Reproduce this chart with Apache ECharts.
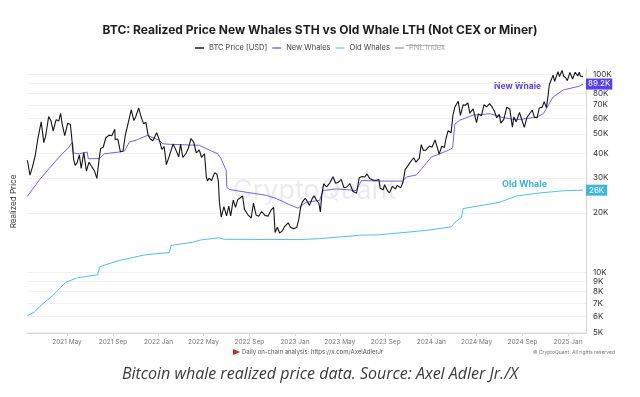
<!DOCTYPE html>
<html>
<head>
<meta charset="utf-8">
<script src="https://cdn.jsdelivr.net/npm/echarts@6/dist/echarts.min.js"></script>
<style>
  html, body { margin: 0; padding: 0; background: #fff; }
  #chart { width: 640px; height: 397px; }
</style>
</head>
<body>
<div id="chart"></div>
<script>
// BTC price (date, USD)
var btcPrice = [
  ['2021-01-15', 36800], ['2021-01-22', 31000], ['2021-01-29', 34300], ['2021-02-05', 38900],
  ['2021-02-12', 47200], ['2021-02-21', 57500], ['2021-02-28', 45200], ['2021-03-05', 48800],
  ['2021-03-13', 61200], ['2021-03-19', 58300], ['2021-03-25', 51700], ['2021-04-02', 59000],
  ['2021-04-09', 58100], ['2021-04-14', 63500], ['2021-04-18', 56200], ['2021-04-25', 49000],
  ['2021-05-03', 56600], ['2021-05-10', 55800], ['2021-05-13', 49500], ['2021-05-19', 37000],
  ['2021-05-23', 34700], ['2021-05-28', 35700], ['2021-06-03', 39200], ['2021-06-08', 33500],
  ['2021-06-15', 40200], ['2021-06-22', 32500], ['2021-06-29', 36000], ['2021-07-06', 34200],
  ['2021-07-13', 32700], ['2021-07-20', 29800], ['2021-07-26', 37300], ['2021-07-30', 42200],
  ['2021-08-06', 42800], ['2021-08-13', 47800], ['2021-08-22', 49300], ['2021-08-29', 48900],
  ['2021-09-06', 52700], ['2021-09-07', 46800], ['2021-09-14', 47100], ['2021-09-21', 40600],
  ['2021-09-28', 41000], ['2021-10-04', 49100], ['2021-10-10', 54800], ['2021-10-20', 66000],
  ['2021-10-27', 58400], ['2021-11-01', 61000], ['2021-11-09', 67500], ['2021-11-16', 60400],
  ['2021-11-22', 56300], ['2021-11-28', 57200], ['2021-12-04', 49400], ['2021-12-10', 47100],
  ['2021-12-17', 46200], ['2021-12-27', 50700], ['2022-01-02', 47300], ['2022-01-10', 41800],
  ['2022-01-16', 43100], ['2022-01-22', 35000], ['2022-01-28', 37700], ['2022-02-09', 44400],
  ['2022-02-14', 42500], ['2022-02-24', 38300], ['2022-03-01', 44400], ['2022-03-07', 38000],
  ['2022-03-15', 39700], ['2022-03-22', 42400], ['2022-03-29', 47400], ['2022-04-05', 45500],
  ['2022-04-12', 40100], ['2022-04-20', 41500], ['2022-04-26', 38100], ['2022-05-04', 39700],
  ['2022-05-09', 30300], ['2022-05-12', 28900], ['2022-05-16', 29900], ['2022-05-23', 29100],
  ['2022-05-31', 31800], ['2022-06-06', 31400], ['2022-06-10', 29000], ['2022-06-13', 22500],
  ['2022-06-18', 19000], ['2022-06-25', 21500], ['2022-07-02', 19300], ['2022-07-08', 21600],
  ['2022-07-13', 19300], ['2022-07-20', 23200], ['2022-07-26', 21300], ['2022-08-01', 23300],
  ['2022-08-08', 23800], ['2022-08-14', 24300], ['2022-08-19', 20800], ['2022-08-28', 19600],
  ['2022-09-06', 18800], ['2022-09-12', 22400], ['2022-09-19', 19500], ['2022-09-26', 19200],
  ['2022-10-04', 20300], ['2022-10-13', 19400], ['2022-10-21', 19200], ['2022-10-29', 20600],
  ['2022-11-05', 21300], ['2022-11-09', 15900], ['2022-11-15', 16900], ['2022-11-21', 15800],
  ['2022-11-28', 16200], ['2022-12-05', 17100], ['2022-12-14', 17800], ['2022-12-20', 16900],
  ['2022-12-29', 16600], ['2023-01-06', 16900], ['2023-01-12', 18800], ['2023-01-16', 21200],
  ['2023-01-21', 22700], ['2023-01-29', 23700], ['2023-02-02', 23700], ['2023-02-09', 21800],
  ['2023-02-16', 23500], ['2023-02-21', 24400], ['2023-02-28', 23100], ['2023-03-06', 22400],
  ['2023-03-10', 20200], ['2023-03-14', 24700], ['2023-03-19', 28000], ['2023-03-27', 27000],
  ['2023-04-04', 28200], ['2023-04-13', 30400], ['2023-04-20', 28200], ['2023-04-26', 28400],
  ['2023-05-05', 29500], ['2023-05-12', 26800], ['2023-05-19', 26900], ['2023-05-28', 28100],
  ['2023-06-05', 25700], ['2023-06-15', 25100], ['2023-06-22', 30000], ['2023-06-30', 30500],
  ['2023-07-07', 30300], ['2023-07-13', 31400], ['2023-07-20', 29800], ['2023-07-28', 29300],
  ['2023-08-04', 29100], ['2023-08-14', 29400], ['2023-08-17', 26600], ['2023-08-25', 26100],
  ['2023-08-29', 27700], ['2023-09-06', 25800], ['2023-09-11', 25200], ['2023-09-19', 27200],
  ['2023-09-27', 26400], ['2023-10-02', 27500], ['2023-10-11', 26700], ['2023-10-17', 28400],
  ['2023-10-23', 33000], ['2023-10-31', 34700], ['2023-11-09', 36700], ['2023-11-15', 37900],
  ['2023-11-21', 36000], ['2023-11-30', 37700], ['2023-12-05', 44100], ['2023-12-11', 41200],
  ['2023-12-17', 41400], ['2023-12-27', 43400], ['2024-01-03', 42800], ['2024-01-11', 46600],
  ['2024-01-17', 42700], ['2024-01-22', 39500], ['2024-01-29', 43300], ['2024-02-05', 42700],
  ['2024-02-09', 47100], ['2024-02-15', 51900], ['2024-02-23', 50700], ['2024-02-28', 62400],
  ['2024-03-04', 68300], ['2024-03-13', 73100], ['2024-03-19', 62000], ['2024-03-26', 70000],
  ['2024-04-01', 69700], ['2024-04-08', 71600], ['2024-04-13', 63600], ['2024-04-22', 66800],
  ['2024-05-01', 57000], ['2024-05-06', 63100], ['2024-05-14', 61600], ['2024-05-21', 70100],
  ['2024-05-28', 68400], ['2024-06-05', 71000], ['2024-06-12', 68200], ['2024-06-18', 65100],
  ['2024-06-24', 60300], ['2024-07-01', 62800], ['2024-07-05', 56700], ['2024-07-13', 59200],
  ['2024-07-21', 68200], ['2024-07-29', 66800], ['2024-08-05', 54000], ['2024-08-09', 60900],
  ['2024-08-15', 57500], ['2024-08-24', 64100], ['2024-08-30', 59100], ['2024-09-06', 53900],
  ['2024-09-13', 60500], ['2024-09-20', 63200], ['2024-09-27', 65800], ['2024-10-03', 60700],
  ['2024-10-10', 60300], ['2024-10-16', 67600], ['2024-10-24', 68200], ['2024-10-29', 72700],
  ['2024-11-04', 67800], ['2024-11-08', 76500], ['2024-11-12', 88700], ['2024-11-17', 90500],
  ['2024-11-22', 98900], ['2024-11-26', 91900], ['2024-12-05', 103000], ['2024-12-09', 97400],
  ['2024-12-16', 104500], ['2024-12-20', 97800], ['2024-12-26', 95800], ['2024-12-30', 92800],
  ['2025-01-06', 102100], ['2025-01-13', 94500], ['2025-01-20', 102300], ['2025-01-22', 104000],
  ['2025-01-27', 98000], ['2025-01-31', 102400], ['2025-02-03', 97800], ['2025-02-10', 97400]
];

// New whales (STH) realized price
var newWhales = [
  ['2021-01-15', 24200], ['2021-02-15', 29100], ['2021-03-14', 33400], ['2021-04-10', 38200],
  ['2021-05-07', 43000], ['2021-05-16', 45500], ['2021-05-18', 40000], ['2021-06-03', 39700],
  ['2021-06-24', 40500], ['2021-06-27', 37500], ['2021-07-27', 37500], ['2021-08-09', 39700],
  ['2021-09-18', 40500], ['2021-10-02', 41000], ['2021-10-15', 45500], ['2021-11-02', 46500],
  ['2021-12-03', 49200], ['2021-12-12', 48300], ['2022-01-03', 46500], ['2022-01-12', 44600],
  ['2022-01-30', 44300], ['2022-04-20', 43800], ['2022-05-22', 41000], ['2022-06-08', 39700],
  ['2022-06-17', 37600], ['2022-07-01', 32700], ['2022-07-03', 26800], ['2022-07-10', 26200],
  ['2022-08-23', 25400], ['2022-10-16', 24500], ['2022-11-12', 23600], ['2022-12-17', 22000],
  ['2023-01-09', 21100], ['2023-01-31', 22600], ['2023-03-08', 23100], ['2023-03-17', 25900],
  ['2023-04-22', 26400], ['2023-06-14', 25900], ['2023-06-28', 29100], ['2023-08-16', 28900],
  ['2023-10-17', 28900], ['2023-10-26', 30300], ['2023-11-22', 31000], ['2023-12-10', 34000],
  ['2024-01-01', 38200], ['2024-01-24', 39700], ['2024-02-15', 41300], ['2024-02-27', 42500],
  ['2024-03-04', 56000], ['2024-03-17', 58600], ['2024-04-22', 62200], ['2024-06-06', 63200],
  ['2024-07-11', 60400], ['2024-08-16', 58900], ['2024-10-09', 60700], ['2024-10-27', 63200],
  ['2024-11-22', 76700], ['2024-12-19', 83300], ['2025-02-01', 87000], ['2025-02-10', 89200]
];

// Old whales (LTH) realized price
var oldWhales = [
  ['2021-01-15', 6060], ['2021-02-02', 6300], ['2021-02-25', 6950], ['2021-03-24', 7650],
  ['2021-04-28', 8930], ['2021-05-29', 9400], ['2021-07-22', 9730], ['2021-07-28', 10700],
  ['2021-09-18', 11500], ['2021-11-29', 12300], ['2022-01-30', 12600], ['2022-02-04', 13700],
  ['2022-04-02', 14200], ['2022-04-25', 14600], ['2022-06-13', 14960], ['2022-06-26', 14700],
  ['2023-01-13', 14650], ['2023-03-08', 14800], ['2023-06-23', 15400], ['2023-08-16', 15500],
  ['2023-12-19', 16300], ['2024-02-24', 17000], ['2024-03-04', 17900], ['2024-03-22', 19000],
  ['2024-03-26', 21000], ['2024-05-28', 22000], ['2024-07-02', 22600], ['2024-08-16', 24300],
  ['2024-10-18', 25200], ['2024-12-28', 25900], ['2025-02-10', 26000]
];

var yTicks = [5000, 6000, 7000, 8000, 9000, 10000, 20000, 30000, 40000, 50000, 60000, 70000, 80000, 90000, 100000];
var xTicks = ['2021-05-01', '2021-09-01', '2022-01-01', '2022-05-01', '2022-09-01', '2023-01-01',
  '2023-05-01', '2023-09-01', '2024-01-01', '2024-05-01', '2024-09-01', '2025-01-01'];
var monthNames = ['Jan', 'Feb', 'Mar', 'Apr', 'May', 'Jun', 'Jul', 'Aug', 'Sep', 'Oct', 'Nov', 'Dec'];

var FONT = 'Inter, Roboto, sans-serif';

// dates go on a plain value axis as UTC milliseconds, prices as log10
function toPoints(list) {
  return list.map(function (d) { return [Date.parse(d[0]), Math.log10(d[1])]; });
}

function kLabel(v) {
  return (v / 1000).toFixed(1).replace(/\.0$/, '') + 'K';
}

function lastOf(list) {
  return list[list.length - 1][1];
}

var chart = echarts.init(document.getElementById('chart'), null, { renderer: 'canvas' });

var option = {
  animation: false,
  backgroundColor: '#fff',
  textStyle: { fontFamily: FONT },
  title: {
    text: 'BTC: Realized Price New Whales STH vs Old Whale LTH (Not CEX or Miner)',
    left: 'center',
    top: 19,
    textStyle: { fontFamily: FONT, fontSize: 12, fontWeight: 'bold', color: '#1e1e1e' }
  },
  legend: {
    top: 39,
    left: 'center',
    icon: 'rect',
    itemWidth: 9,
    itemHeight: 1.5,
    itemGap: 5,
    textStyle: { fontSize: 7.5, color: '#444', fontFamily: FONT },
    inactiveColor: '#aaa',
    selected: { 'PNL Index': false },
    data: ['BTC Price [USD]', 'New Whales', 'Old Whales', 'PNL Index']
  },
  grid: { left: 27, right: 54, top: 70, bottom: 64 },
  xAxis: {
    type: 'value',
    min: Date.parse('2021-01-14'),
    max: Date.parse('2025-02-18'),
    axisLine: { lineStyle: { color: '#d6d6d6' } },
    axisTick: { show: true, length: 3, lineStyle: { color: '#d6d6d6' }, customValues: xTicks.map(Date.parse) },
    splitLine: { show: false },
    axisLabel: {
      customValues: xTicks.map(Date.parse),
      fontSize: 6.5,
      color: '#777',
      margin: 6,
      formatter: function (value) {
        var d = new Date(value);
        return d.getUTCFullYear() + ' ' + monthNames[d.getUTCMonth()];
      }
    }
  },
  yAxis: [{
    type: 'value',
    position: 'right',
    min: Math.log10(4950),
    max: Math.log10(105000),
    axisLine: { show: true, lineStyle: { color: '#d6d6d6' } },
    axisTick: { show: false, customValues: yTicks.map(Math.log10) },
    splitLine: { show: true, lineStyle: { color: '#f1f1f1', width: 1 } },
    axisLabel: {
      customValues: yTicks.map(Math.log10),
      fontSize: 8,
      color: '#333',
      margin: 7,
      formatter: function (value) { return kLabel(Math.pow(10, value)); }
    }
  }, {
    type: 'value',
    position: 'left',
    name: 'Realized Price',
    nameLocation: 'middle',
    nameGap: 9,
    nameTextStyle: { fontSize: 8, color: '#333', fontFamily: FONT },
    axisLine: { show: false },
    axisTick: { show: false },
    axisLabel: { show: false },
    splitLine: { show: false }
  }],
  series: [{
    name: 'BTC Price [USD]',
    type: 'line',
    data: toPoints(btcPrice),
    showSymbol: false,
    color: '#1a1a1a',
    lineStyle: { width: 1.1, color: '#151515' },
    z: 4
  }, {
    name: 'New Whales',
    type: 'line',
    data: toPoints(newWhales),
    showSymbol: false,
    color: '#7f6cf2',
    lineStyle: { width: 1, color: '#7a5ff4' },
    z: 3,
    endLabel: {
      show: true,
      distance: 3,
      formatter: function () { return kLabel(lastOf(newWhales)); },
      backgroundColor: '#5b3fe8',
      color: '#fff',
      fontSize: 8,
      padding: [2, 2, 1, 2]
    }
  }, {
    name: 'Old Whales',
    type: 'line',
    data: toPoints(oldWhales),
    showSymbol: false,
    color: '#7fd3ea',
    lineStyle: { width: 1, color: '#4fc3e2' },
    z: 3,
    endLabel: {
      show: true,
      distance: 3,
      formatter: function () { return kLabel(lastOf(oldWhales)); },
      backgroundColor: '#3db6d9',
      color: '#fff',
      fontSize: 8,
      padding: [2, 3, 1, 3]
    }
  }, {
    name: 'PNL Index',
    type: 'line',
    data: [],
    color: '#888'
  }],
  graphic: [{
    type: 'text',
    left: 233,
    top: 177,
    z: 0,
    style: { text: 'CryptoQuant', fontSize: 27, fontFamily: FONT, fill: 'rgba(150,150,190,0.2)' }
  }, {
    type: 'text',
    left: 494,
    top: 82,
    style: { text: 'New Whale', fontSize: 8.5, fontWeight: 'bold', fontFamily: FONT, fill: '#5b45de' }
  }, {
    type: 'text',
    left: 502,
    top: 180,
    style: { text: 'Old Whale', fontSize: 9, fontWeight: 'bold', fontFamily: FONT, fill: '#3cb4d8' }
  }, {
    type: 'line',
    shape: { x1: 406, y1: 45.5, x2: 444, y2: 45.5 },
    style: { stroke: '#999', lineWidth: 0.8 }
  }, {
    type: 'polygon',
    shape: { points: [[233, 349], [240, 352], [233, 355]] },
    style: { fill: '#d0202a' }
  }, {
    type: 'text',
    left: 242,
    top: 349,
    style: { text: 'Daily on-chain analysis: https://x.com/AxelAdlerJr', fontSize: 6, fontFamily: FONT, fill: '#555' }
  }, {
    type: 'text',
    right: 25,
    top: 350,
    style: { text: '\u00a9 CryptoQuant. All rights reserved', fontSize: 5, fontFamily: FONT, fill: '#777' }
  }, {
    type: 'text',
    left: 'center',
    top: 366,
    style: { text: 'Bitcoin whale realized price data. Source: Axel Adler Jr./X', fontSize: 16, fontStyle: 'italic', fontFamily: '"Open Sans", sans-serif', fill: '#3a3a3a' }
  }]
};

chart.setOption(option);
</script>
</body>
</html>
